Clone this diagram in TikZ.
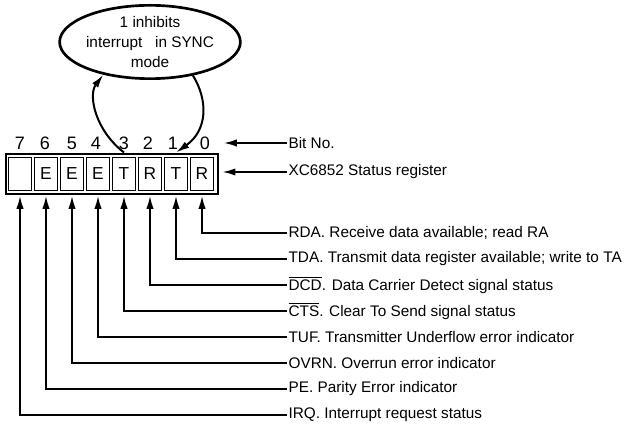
\documentclass[tikz,border=0pt]{standalone}
\usepackage{fontspec}
\setmainfont{Liberation Sans}
\usetikzlibrary{arrows.meta, shapes.geometric}

\begin{document}
\begin{tikzpicture}[x=0.75pt, y=-0.75pt,
        frame/.style={rectangle, draw=black, line width=2.2pt,
                      minimum width=159pt, minimum height=30pt, inner sep=0pt},
        cell/.style={rectangle, draw=black, line width=1.2pt,
                     minimum width=17pt, minimum height=25pt, inner sep=0pt,
                     font=\fontsize{13}{15}\selectfont},
        bitnum/.style={inner sep=0pt, font=\fontsize{13.5}{15}\selectfont},
        desc/.style={anchor=west, inner sep=1pt, font=\fontsize{11.5}{13}\selectfont},
        note/.style={ellipse, draw=black, line width=2pt,
                     minimum width=127pt, minimum height=55pt, inner sep=0pt,
                     align=center, font=\fontsize{11.5}{15}\selectfont},
        arrow/.style={-{Latex[length=10pt, width=5.5pt]}, line width=1.5pt},
    ]
    \useasboundingbox (0,0) rectangle (643,427);

    % Register frame
    \node[frame] (reg) at (112, 174) {};

    % Bit cells 7 ... 0
    \node[cell] (c7) at (20, 174) {};
    \node[cell] (c6) at (46, 174) {E};
    \node[cell] (c5) at (72, 174) {E};
    \node[cell] (c4) at (98, 174) {E};
    \node[cell] (c3) at (124, 174) {T};
    \node[cell] (c2) at (150, 174) {R};
    \node[cell] (c1) at (176, 174) {T};
    \node[cell] (c0) at (202, 174) {R};

    % Bit numbers
    \node[bitnum] (b7) at (20, 143) {7};
    \node[bitnum] (b6) at (45, 143) {6};
    \node[bitnum] (b5) at (72, 143) {5};
    \node[bitnum] (b4) at (96, 143) {4};
    \node[bitnum] (b3) at (124, 143) {3};
    \node[bitnum] (b2) at (148, 143) {2};
    \node[bitnum] (b1) at (173, 143) {1};
    \node[bitnum] (b0) at (205, 143) {0};

    % Note on bit 3
    \node[note] (sync) at (150, 42) {1 inhibits\\interrupt~~ in SYNC\\mode};

    % Right side labels
    \node[desc] (lbit) at (287, 143) {Bit No.};
    \node[desc] (lreg) at (287, 172) {XC6852 Status register};
    \node[desc] (lrda) at (287, 233) {RDA. Receive data available; read RA};
    \node[desc] (ltda) at (287, 259) {TDA. Transmit data register available; write to TA};
    \node[desc] (ldcd) at (287, 285) {$\overline{\mbox{DCD}}$. Data Carrier Detect signal status};
    \node[desc] (lcts) at (287, 311) {$\overline{\mbox{CTS}}$. Clear To Send signal status};
    \node[desc] (ltuf) at (287, 337) {TUF. Transmitter Underflow error indicator};
    \node[desc] (lovr) at (287, 363) {OVRN. Overrun error indicator};
    \node[desc] (lpe) at (287, 389) {PE. Parity Error indicator};
    \node[desc] (lirq) at (287, 415) {IRQ. Interrupt request status};

    % Pointers to the register
    \draw[arrow, shorten >=3pt] (lbit.west) -- (reg.east |- lbit);
    \draw[arrow, shorten >=2pt] (lreg.west) -- (reg.east |- lreg);

    % Loop through the note
    \draw[arrow] (c3 |- reg.north) .. controls (95,130) and (88,95) .. (sync.215);
    \draw[arrow] (sync.322) .. controls (208,100) and (208,130) .. (c1 |- reg.north);

    % Leader lines from the bits
    \draw[arrow] (lrda.west) -| (c0 |- reg.south);
    \draw[arrow] (ltda.west) -| (c1 |- reg.south);
    \draw[arrow] (ldcd.west) -| (c2 |- reg.south);
    \draw[arrow] (lcts.west) -| (c3 |- reg.south);
    \draw[arrow] (ltuf.west) -| (c4 |- reg.south);
    \draw[arrow] (lovr.west) -| (c5 |- reg.south);
    \draw[arrow] (lpe.west) -| (c6 |- reg.south);
    \draw[arrow] (lirq.west) -| (c7 |- reg.south);
\end{tikzpicture}
\end{document}
